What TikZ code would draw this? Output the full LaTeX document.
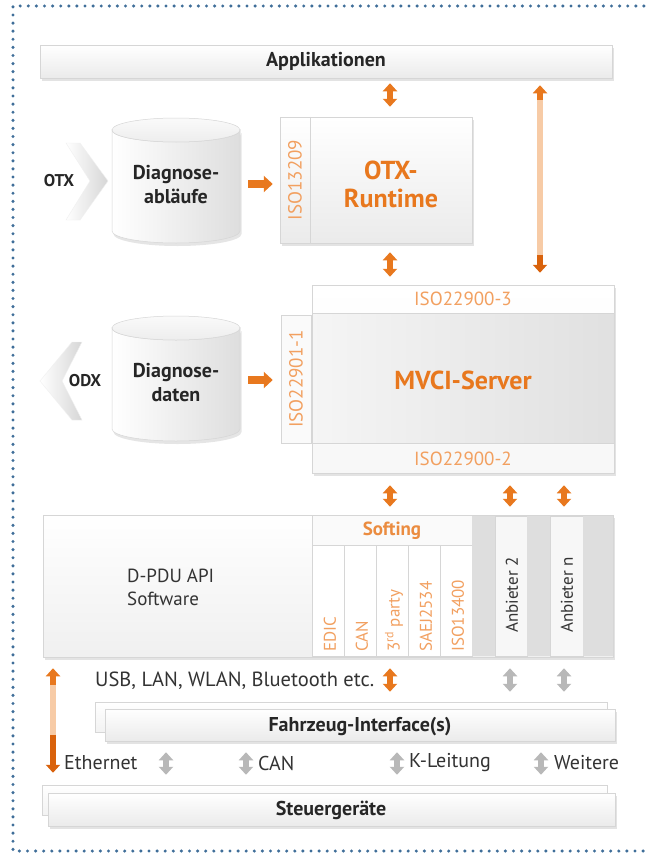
\documentclass[tikz,border=0pt]{standalone}
\usepackage{fontspec}
\setmainfont{PT Sans}
\usetikzlibrary{shapes.geometric,shadows,arrows.meta,calc,fit}
\definecolor{sorange}{HTML}{E8781E}
\definecolor{sdark}{HTML}{D9620C}
\definecolor{slight}{HTML}{F2A060}
\definecolor{speach}{HTML}{F7CBA6}
\definecolor{dotblue}{HTML}{3F6E99}
\definecolor{pborder}{HTML}{D6D6D6}
\tikzset{
  panel/.style={draw=pborder, line width=0.5pt, top color=white, bottom color=black!8,
    drop shadow={opacity=0.22, shadow xshift=1.5pt, shadow yshift=-3pt}, inner sep=0pt},
  backbar/.style={draw=pborder, line width=0.5pt, top color=white, bottom color=black!5, inner sep=0pt},
  flat/.style={draw=pborder, line width=0.5pt, fill=black!2, inner sep=0pt},
  darkstrip/.style={draw=none, fill=black!13, inner sep=0pt},
  isolbl/.style={text=slight, font=\fontsize{19}{20}\selectfont, inner sep=0pt},
  sublbl/.style={text=slight, font=\fontsize{17}{18}\selectfont, inner sep=0pt, rotate=90, anchor=west},
  title/.style={font=\bfseries\fontsize{20}{24}\selectfont, text=black!85, inner sep=0pt},
  body/.style={font=\fontsize{20}{24}\selectfont, text=black!80, inner sep=0pt},
  big/.style={font=\bfseries\fontsize{26}{28}\selectfont, text=sorange, inner sep=0pt, align=center},
  oarr/.style={draw=sorange, line width=6pt, {Triangle[width=14pt,length=8pt]}-{Triangle[width=14pt,length=8pt]}},
  garr/.style={draw=black!28, line width=6pt, {Triangle[width=14pt,length=8pt]}-{Triangle[width=14pt,length=8pt]}},
  osingle/.style={draw=sorange, line width=8pt, -{Triangle[width=16pt,length=9pt]}},
  cylbody/.style={draw=black!16, line width=0.5pt, left color=white, right color=black!13,
    drop shadow={opacity=0.2, shadow xshift=1.5pt, shadow yshift=-3pt}},
  cyltop/.style={draw=black!16, line width=0.5pt, top color=black!2, bottom color=black!7},
  chev/.style={draw=black!6, line width=0.4pt, left color=white, right color=black!16}
}
\begin{document}
\begin{tikzpicture}[x=1pt,y=-1pt]
\useasboundingbox (0,0) rectangle (648,859);
\fill[white] (0,0) rectangle (648,859);
% dotted frame
\draw[dotblue, line width=3.4pt, line cap=round, dash pattern=on 0pt off 8.1pt]
  (652,6) -- (13,6) -- (13,851) -- (652,851);

% column coordinates
\coordinate (cA) at (390,0);
\coordinate (cR) at (540,0);
\coordinate (cB) at (510,0);
\coordinate (cC) at (564,0);
\coordinate (cL) at (53,0);
\coordinate (g1) at (166,0);
\coordinate (g2) at (246,0);
\coordinate (g3) at (397,0);
\coordinate (g4) at (541,0);

% Applikationen
\node[panel, fit={(40,45) (612,78)}] (app) {};
\node[title] (appt) at (app.center) {Applikationen};

% OTX chevron + cylinder
\path[chev] (66,143) -- (80,143) -- (108,181) -- (80,220) -- (66,220) -- (90,181) -- cycle;
\node[title, font=\bfseries\fontsize{17}{20}\selectfont] (otxl) at (59,181) {OTX};
\path[cylbody] (112,130) -- (112,231) arc[start angle=180, end angle=0, x radius=64, y radius=12]
  -- (240,130) arc[start angle=0, end angle=180, x radius=64, y radius=12] -- cycle;
\path[cyltop] (176,130) ellipse[x radius=64, y radius=12];
\node[inner sep=0pt, fit={(112,118) (240,243)}] (cyl1) {};
\node[title, align=center] (cyl1t) at (176,185) {Diagnose-\\abläufe};

% OTX runtime
\node[panel, fit={(280,117) (472,243)}] (otx) {};
\draw[pborder, line width=0.5pt] (otx.north west) ++(30,0) coordinate (od1) -- (od1 |- otx.south);
\node[isolbl, rotate=90] (iso13209) at (295,180) {ISO13209};
\node[big] (otxt) at (391,184) {OTX-\\Runtime};

% ODX chevron + cylinder
\path[chev] (72,342) -- (82,342) -- (62,381) -- (82,420) -- (72,420) -- (40,381) -- cycle;
\node[title, font=\bfseries\fontsize{17}{20}\selectfont] (odxl) at (85,381) {ODX};
\path[cylbody] (112,328) -- (112,429) arc[start angle=180, end angle=0, x radius=64, y radius=12]
  -- (240,328) arc[start angle=0, end angle=180, x radius=64, y radius=12] -- cycle;
\path[cyltop] (176,328) ellipse[x radius=64, y radius=12];
\node[inner sep=0pt, fit={(112,316) (240,441)}] (cyl2) {};
\node[title, align=center] (cyl2t) at (176,383) {Diagnose-\\daten};

% MVCI server
\node[panel, bottom color=black!3, fit={(312,285) (614,473)}] (mvci) {};
\node[draw=pborder, line width=0.5pt, left color=black!4, right color=black!12, inner sep=0pt,
  fit={(312,313) (614,443)}] (mvcib) {};
\node[flat, fit={(281,315) (311,443)}] (isostrip) {};
\node[isolbl, rotate=90] (iso229011) at (296,379) {ISO22901-1};
\node[isolbl] (iso3) at (463,299) {ISO22900-3};
\node[isolbl] (iso2) at (463,459) {ISO22900-2};
\node[big] (mvcit) at (463,380) {MVCI-Server};

% D-PDU API
\node[panel, bottom color=black!6, fit={(43,515) (613,657)}] (dpdu) {};
\node[body, font=\fontsize{19}{23}\selectfont, align=left, anchor=west] (dpdut) at (127,587) {D-PDU API\\Software};
\node[flat, fit={(312,515) (472,545)}] (soft) {};
\node[font=\bfseries\fontsize{19}{20}\selectfont, text=sorange!85, inner sep=0pt] (softt) at (392,531) {Softing};
\foreach \i/\x in {1/312,2/344,3/376,4/408,5/440}{
  \node[flat, fill=white, fit={(\x,545) (\x+32,656)}] (sc\i) {};
}
\node[sublbl] (l1) at (330,652) {EDIC};
\node[sublbl] (l2) at (362,652) {CAN};
\node[sublbl] (l3) at (394,652) {3\textsuperscript{rd} party};
\node[sublbl] (l4) at (426,652) {SAEJ2534};
\node[sublbl] (l5) at (458,652) {ISO13400};
\node[darkstrip, fit={(472,516) (495,656)}] (ds1) {};
\node[flat, fill=black!3, fit={(495,516) (527,656)}] (anb2) {};
\node[darkstrip, fit={(527,516) (550,656)}] (ds2) {};
\node[flat, fill=black!3, fit={(550,516) (583,656)}] (anbn) {};
\node[darkstrip, fit={(583,516) (612.5,656)}] (ds3) {};
\node[body, font=\fontsize{17}{18}\selectfont, rotate=90] (anb2t) at (512,595) {Anbieter 2};
\node[body, font=\fontsize{17}{18}\selectfont, rotate=90] (anbnt) at (567,595) {Anbieter n};

% Fahrzeug-Interface(s)
\node[backbar, fit={(95,702) (607,732)}] (fzb) {};
\node[panel, fit={(105,709) (615,741)}] (fz) {};
\node[title] (fzt) at (360,727) {Fahrzeug-Interface(s)};
\node[body, font=\fontsize{20.5}{24}\selectfont, anchor=west] (usb) at (95,681) {USB, LAN, WLAN, Bluetooth etc.};

% Steuergeraete
\node[backbar, fit={(42,785) (607,815)}] (stb) {};
\node[panel, fit={(48,793) (615,826)}] (st) {};
\node[title] (stt) at (331,810) {Steuergeräte};
\node[body, anchor=west] (eth) at (64,763) {Ethernet};
\node[body, anchor=west] (can) at (258,763) {CAN};
\node[body, anchor=west] (kl) at (409,763) {K-Leitung};
\node[body, anchor=west] (wei) at (554,763) {Weitere};

% horizontal orange arrows
\draw[osingle, shorten <=8pt, shorten >=7pt] (cyl1.east |- otxt) -- (otx.west |- otxt);
\draw[osingle, shorten <=8pt, shorten >=8pt] (cyl2.east |- mvcit) -- (isostrip.west |- mvcit);

% vertical arrows
\draw[oarr, shorten <=5pt, shorten >=10pt] (app.south -| cA) -- (otx.north -| cA);
\draw[oarr, shorten <=9pt, shorten >=8pt] (otx.south -| cA) -- (mvci.north -| cA);
\draw[oarr, shorten <=12pt, shorten >=8pt] (mvci.south -| cA) -- (dpdu.north -| cA);
\draw[oarr, shorten <=12pt, shorten >=8pt] (mvci.south -| cB) -- (dpdu.north -| cB);
\draw[oarr, shorten <=12pt, shorten >=8pt] (mvci.south -| cC) -- (dpdu.north -| cC);
\draw[oarr, shorten <=11pt, shorten >=10pt] (dpdu.south -| cA) -- (fzb.north -| cA);
\draw[garr, shorten <=11pt, shorten >=10pt] (dpdu.south -| cB) -- (fzb.north -| cB);
\draw[garr, shorten <=11pt, shorten >=10pt] (dpdu.south -| cC) -- (fzb.north -| cC);
\foreach \g in {g1,g2,g3,g4}{
  \draw[garr, shorten <=11pt, shorten >=10pt] (fz.south -| \g) -- (stb.north -| \g);
}

% long arrow right (Applikationen <-> MVCI)
\draw[draw=speach, line width=6pt, shorten <=12pt, shorten >=20pt] (app.south -| cR) -- (mvci.north -| cR);
\draw[draw=sorange, line width=6pt, {Triangle[width=14pt,length=8pt]}-, shorten <=7pt]
  (app.south -| cR) -- ($(app.south -| cR)+(0,22)$);
\draw[draw=sdark, line width=6pt, -{Triangle[width=14pt,length=8pt]}, shorten >=12pt]
  ($(mvci.north -| cR)+(0,-30)$) -- (mvci.north -| cR);

% long arrow left (D-PDU <-> Steuergeraete)
\draw[draw=speach, line width=6pt, shorten <=18pt, shorten >=30pt] (dpdu.south -| cL) -- (stb.north -| cL);
\draw[draw=sorange, line width=6pt, {Triangle[width=14pt,length=8pt]}-, shorten <=11pt]
  (dpdu.south -| cL) -- ($(dpdu.south -| cL)+(0,28)$);
\draw[draw=sdark, line width=6pt, -{Triangle[width=14pt,length=8pt]}, shorten >=12pt]
  ($(stb.north -| cL)+(0,-50)$) -- (stb.north -| cL);
\end{tikzpicture}
\end{document}
